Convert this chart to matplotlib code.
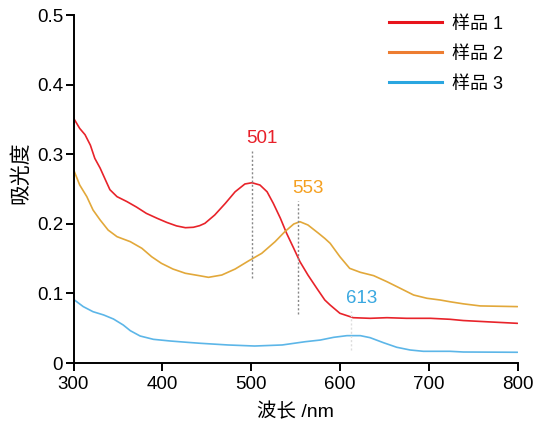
import matplotlib
matplotlib.use("Agg")
import matplotlib.pyplot as plt
from matplotlib.lines import Line2D

plt.rcParams['font.family'] = ['Liberation Sans', 'Noto Sans CJK SC', 'DejaVu Sans']

# ---- data ----
wl_1 = [300, 307, 313, 319, 324, 330, 336, 341, 349, 360, 371, 382, 394, 405, 416,
        426, 435, 442, 448, 459, 471, 482, 493, 501, 510, 518, 525, 533, 540, 548,
        555, 564, 574, 583, 589, 600, 615, 634, 653, 675, 702, 724, 739, 769, 800]
abs_1 = [0.352, 0.337, 0.328, 0.313, 0.294, 0.280, 0.263, 0.249, 0.239, 0.232, 0.224,
         0.215, 0.208, 0.202, 0.197, 0.1944, 0.195, 0.1973, 0.2007, 0.2126, 0.2294,
         0.246, 0.2572, 0.259, 0.2557, 0.246, 0.2294, 0.2079, 0.1863, 0.1648, 0.1456,
         0.1264, 0.1073, 0.0905, 0.0833, 0.0714, 0.0651, 0.0642, 0.0651, 0.0642,
         0.0642, 0.0628, 0.061, 0.059, 0.057]

wl_2 = [300, 307, 315, 322, 330, 339, 349, 364, 377, 388, 399, 412, 426, 442, 452,
        467, 482, 497, 512, 527, 538, 548, 555, 564, 576, 583, 589, 600, 611, 623,
        638, 653, 668, 683, 698, 713, 724, 739, 758, 800]
abs_2 = [0.278, 0.2557, 0.239, 0.2198, 0.2055, 0.191, 0.1815, 0.1743, 0.1648, 0.1527,
         0.1432, 0.135, 0.1289, 0.1254, 0.1231, 0.1264, 0.135, 0.1466, 0.1576, 0.1743,
         0.1887, 0.1997, 0.203, 0.1983, 0.1863, 0.179, 0.172, 0.1527, 0.136, 0.1303,
         0.1255, 0.1168, 0.1073, 0.0977, 0.093, 0.0905, 0.088, 0.085, 0.082, 0.081]

wl_3 = [300, 311, 322, 334, 345, 356, 364, 375, 390, 409, 428, 443, 474, 504, 535,
        561, 578, 593, 608, 623, 634, 649, 664, 679, 694, 724, 739, 800]
abs_3 = [0.0915, 0.081, 0.0737, 0.069, 0.0632, 0.0546, 0.0464, 0.0388, 0.034, 0.0316,
         0.0297, 0.0283, 0.0259, 0.0244, 0.0259, 0.0306, 0.033, 0.0369, 0.0393, 0.0393,
         0.0364, 0.0292, 0.0226, 0.0187, 0.0168, 0.0168, 0.0158, 0.0154]

series_names = ['样品 1', '样品 2', '样品 3']
curve_colors = ['#e8232a', '#e2a83a', '#5cb6e8']
legend_colors = ['#e8141c', '#ed7d31', '#2aa6e0']
label_colors = ['#e8202a', '#f5a020', '#3aa8e0']

peak_wl = [501, 553, 613]
peak_line_lo = [0.122, 0.071, 0.019]
peak_line_hi = [0.304, 0.233, 0.074]
peak_line_colors = ['#888888', '#888888', '#dddddd']

x_ticks = [300, 400, 500, 600, 700, 800]
y_ticks = [0, 0.1, 0.2, 0.3, 0.4, 0.5]
y_tick_labels = ['0', '0.1', '0.2', '0.3', '0.4', '0.5']

# ---- figure ----
fig = plt.figure(figsize=(5.34, 4.25), dpi=100)
ax = fig.add_axes([73.5 / 534, (425 - 363) / 425, 444 / 534, 348 / 425])

for wl, ab, c in zip([wl_1, wl_2, wl_3], [abs_1, abs_2, abs_3], curve_colors):
    ax.plot(wl, ab, color=c, lw=1.2, solid_joinstyle='round', solid_capstyle='round')

for pk, lo, hi, lc, tc in zip(peak_wl, peak_line_lo, peak_line_hi, peak_line_colors, label_colors):
    ax.vlines(pk, lo, hi, colors=lc, linestyles=(0, (1.5, 1.5)), lw=1.0)
    ax.annotate(str(pk), xy=(pk, hi), xytext=(-4, 3), textcoords='offset points',
                ha='left', va='bottom', color=tc, fontsize=13.5)

ax.set_xlim(300, 800)
ax.set_ylim(0, 0.5)
ax.set_xticks(x_ticks)
ax.set_yticks(y_ticks)
ax.set_yticklabels(y_tick_labels)

for s in ['top', 'right']:
    ax.spines[s].set_visible(False)
for s in ['left', 'bottom']:
    ax.spines[s].set_linewidth(1.4)
ax.tick_params(axis='both', direction='out', length=5.5, width=1.4, labelsize=13.5)
ax.tick_params(axis='x', pad=4)
ax.tick_params(axis='y', pad=2)

ax.set_ylabel('吸光度', fontsize=15)
ax.yaxis.set_label_coords(-0.098, 0.547)
ax.set_xlabel('波长 /nm', fontsize=14, labelpad=7)

handles = [Line2D([0], [0], color=c, lw=2.2) for c in legend_colors]
ax.legend(handles, series_names, loc='upper right', bbox_to_anchor=(1.005, 1.045),
          frameon=False, fontsize=13, handlelength=2.9, handletextpad=0.6,
          labelspacing=0.72)

fig.savefig('out.png', dpi=100)
